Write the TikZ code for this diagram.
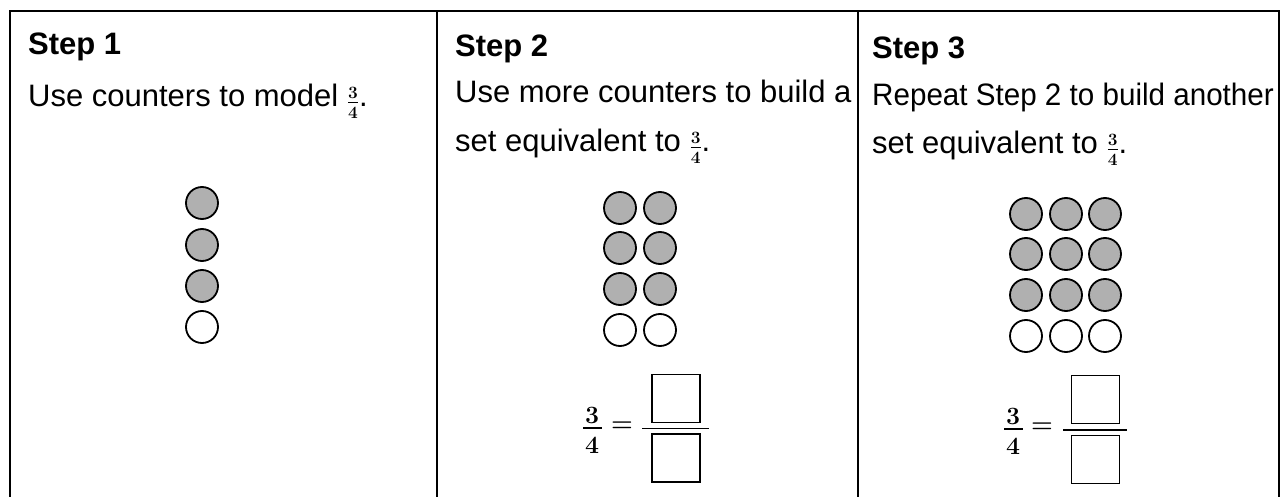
\documentclass[tikz,border=0pt]{standalone}
\usepackage{fontspec}
\setmainfont{Liberation Sans}
\newcommand{\qfrac}{{\fontsize{23}{23}\selectfont\boldmath\raisebox{-1.8pt}{$\frac{3}{4}$}}}
\begin{document}
\begin{tikzpicture}[x=1pt,y=-1pt,
  txt/.style={anchor=base west, inner sep=0, font=\fontsize{31}{37}\selectfont},
  head/.style={anchor=base west, inner sep=0, font=\fontsize{31}{37}\selectfont\bfseries},
  frameline/.style={line width=2pt, black},
  fullcounter/.style={circle, draw=black, line width=1.8pt, fill=gray!62, minimum size=32pt, inner sep=0},
  opencounter/.style={circle, draw=black, line width=1.8pt, fill=white, minimum size=32pt, inner sep=0},
  digit/.style={inner sep=0, font=\fontsize{25}{25}\selectfont\boldmath},
  ansbox/.style={draw, line width=1.6pt, minimum width=48pt, minimum height=48pt, inner sep=0},
  fracbar/.style={line width=1.6pt}
]
\useasboundingbox (0,0) rectangle (1286,497);
% frame
\draw[frameline] (10,497) -- (10,11) -- (1279,11) -- (1279,497);
\draw[frameline] (437,11) -- (437,497);
\draw[frameline] (858,11) -- (858,497);

% Step 1
\node[head] (h1) at (28,55) {Step 1};
\node[txt] (t1) at (28,107) {Use counters to model \qfrac.};
\foreach \r/\y in {1/203,2/245,3/286} {
  \node[fullcounter] (s1c\r) at (202,\y) {};
}
\node[opencounter] (s1c4) at (202,327) {};

% Step 2
\node[head] (h2) at (455,57) {Step 2};
\node[txt] (t2a) at (455,103) {Use more counters to build a};
\node[txt] (t2b) at (455,152) {set equivalent to \qfrac.};
\foreach \c/\x in {1/620,2/660} {
  \foreach \r/\y in {1/208,2/248,3/289} {
    \node[fullcounter] (s2c\c\r) at (\x,\y) {};
  }
  \node[opencounter] (s2c\c4) at (\x,330) {};
}
\node[digit] (n2) at (592,415) {$3$};
\node[digit] (d2) at (592,445) {$4$};
\draw[fracbar] (583,428) -- (602,428);
\node[digit] (e2) at (622,427) {$=$};
\node[ansbox] (b2n) at (676,398.5) {};
\node[ansbox] (b2d) at (676,458) {};
\draw[fracbar] (642,428.5) -- (709,428.5);

% Step 3
\node[head] (h3) at (872,59) {Step 3};
\node[txt] (t3a) at (872,106) {\scalebox{0.955}[1]{Repeat Step 2 to build another}};
\node[txt] (t3b) at (872,154) {set equivalent to \qfrac.};
\foreach \c/\x in {1/1026,2/1066,3/1105} {
  \foreach \r/\y in {1/214,2/254,3/295} {
    \node[fullcounter] (s3c\c\r) at (\x,\y) {};
  }
  \node[opencounter] (s3c\c4) at (\x,336) {};
}
\node[digit] (n3) at (1013,416) {$3$};
\node[digit] (d3) at (1013,446) {$4$};
\draw[fracbar] (1004,429) -- (1023,429);
\node[digit] (e3) at (1042,428) {$=$};
\node[ansbox] (b3n) at (1095.5,399.5) {};
\node[ansbox] (b3d) at (1095.5,459.5) {};
\draw[fracbar] (1063,430) -- (1127,430);
\end{tikzpicture}
\end{document}
